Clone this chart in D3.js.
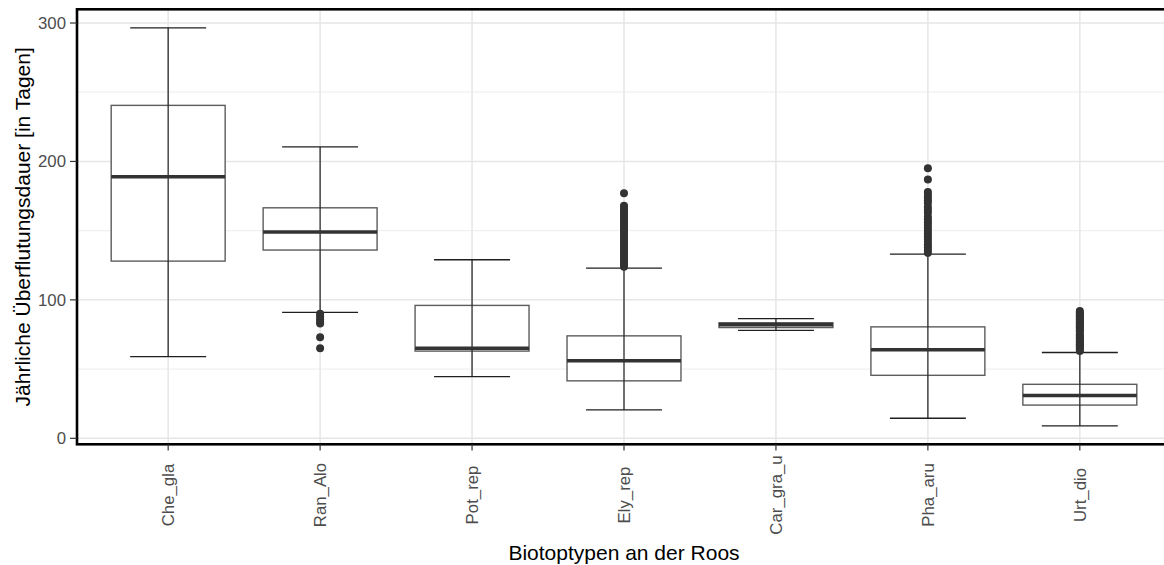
<!DOCTYPE html>
<html>
<head>
<meta charset="utf-8">
<script src="https://cdn.jsdelivr.net/npm/d3@7"></script>
<style>
  body { margin: 0; background: #fff; }
  svg { display: block; font-family: "Liberation Sans", Arial, sans-serif; }
</style>
</head>
<body>
<svg id="chart" width="1164" height="565"></svg>
<script>
'use strict';

// Biotoptypen and their box statistics (days per year)
const categories = ["Che_gla", "Ran_Alo", "Pot_rep", "Ely_rep", "Car_gra_u", "Pha_aru", "Urt_dio"];
const whiskerLow  = [59, 91, 44.5, 20.5, 78, 14.5, 9];
const q1          = [128, 136, 63, 41.5, 80, 45.5, 24];
const medians     = [189, 149, 65, 56, 82, 64, 31];
const q3          = [240.5, 166.5, 96, 74, 83.5, 80.5, 39];
const whiskerHigh = [296.5, 210.5, 129, 123, 86.5, 133, 62];

// outliers
const outRanAlo = [90, 88, 86, 84, 83, 73, 65];
const outElyRep = [177, 168, 167, 165, 164, 162, 161, 159, 158, 156, 155, 153, 152, 150, 149,
  147, 146, 144, 143, 141, 140, 138, 137, 135, 134, 132, 131, 129, 128, 126, 125, 124];
const outPhaAru = [195, 187, 178, 176, 174, 172, 170, 167, 165, 163, 160, 158, 156, 154, 152,
  150, 148, 146, 144, 142, 140, 138, 136, 134];
const outUrtDio = [92, 91, 90, 89, 88, 87, 86, 85, 84, 83, 82, 81, 80, 79, 78, 77, 75, 74, 73,
  72, 71, 70, 69, 68, 67, 66, 65, 64, 63];
const outliers = [[], outRanAlo, [], outElyRep, [], outPhaAru, outUrtDio];

const yTicks = [0, 100, 200, 300];
const yMinor = [50, 150, 250];

const panel = { left: 77, right: 1171, top: 9.3, bottom: 444.3 };

const svg = d3.select("#chart");

const x = d3.scalePoint()
  .domain(categories)
  .range([panel.left, panel.right])
  .padding(0.6);
const step = x.step();

const y = d3.scaleLinear()
  .domain([-4.33, 309.9])
  .range([panel.bottom, panel.top]);

// grid
const grid = svg.append("g");
grid.selectAll(".minor").data(yMinor).enter().append("line")
  .attr("x1", panel.left).attr("x2", panel.right)
  .attr("y1", (d) => y(d)).attr("y2", (d) => y(d))
  .attr("stroke", "#f0f0f0").attr("stroke-width", 1.2);
grid.selectAll(".major").data(yTicks).enter().append("line")
  .attr("x1", panel.left).attr("x2", panel.right)
  .attr("y1", (d) => y(d)).attr("y2", (d) => y(d))
  .attr("stroke", "#e6e6e6").attr("stroke-width", 1.5);
grid.selectAll(".vmajor").data(categories).enter().append("line")
  .attr("x1", (d) => x(d)).attr("x2", (d) => x(d))
  .attr("y1", panel.top).attr("y2", panel.bottom)
  .attr("stroke", "#e6e6e6").attr("stroke-width", 1.5);

const boxW = step * 0.75;
const capW = step * 0.5;

const stats = categories.map((c, i) => ({
  cat: c, lo: whiskerLow[i], q1: q1[i], med: medians[i], q3: q3[i], hi: whiskerHigh[i], out: outliers[i]
}));

const g = svg.append("g");

// boxes
g.selectAll(".box").data(stats).enter().append("rect")
  .attr("x", (d) => x(d.cat) - boxW / 2)
  .attr("width", boxW)
  .attr("y", (d) => y(d.q3))
  .attr("height", (d) => y(d.q1) - y(d.q3))
  .attr("fill", "#fff")
  .attr("stroke", "#5c5c5c")
  .attr("stroke-width", 1.4);

// error bars (drawn over the boxes)
g.selectAll(".stem").data(stats).enter().append("line")
  .attr("x1", (d) => x(d.cat)).attr("x2", (d) => x(d.cat))
  .attr("y1", (d) => y(d.hi)).attr("y2", (d) => y(d.lo))
  .attr("stroke", "#2b2b2b").attr("stroke-width", 1.3);
["hi", "lo"].forEach((k) => {
  g.selectAll(".cap-" + k).data(stats).enter().append("line")
    .attr("x1", (d) => x(d.cat) - capW / 2).attr("x2", (d) => x(d.cat) + capW / 2)
    .attr("y1", (d) => y(d[k])).attr("y2", (d) => y(d[k]))
    .attr("stroke", "#1f1f1f").attr("stroke-width", 1.3);
});

// medians
g.selectAll(".median").data(stats).enter().append("line")
  .attr("x1", (d) => x(d.cat) - boxW / 2).attr("x2", (d) => x(d.cat) + boxW / 2)
  .attr("y1", (d) => y(d.med)).attr("y2", (d) => y(d.med))
  .attr("stroke", "#333").attr("stroke-width", 3.5);

// outliers
stats.forEach((s) => {
  g.selectAll(null).data(s.out).enter().append("circle")
    .attr("cx", x(s.cat))
    .attr("cy", (d) => y(d))
    .attr("r", 4)
    .attr("fill", "#333");
});

// panel border
svg.append("rect")
  .attr("x", panel.left).attr("y", panel.top)
  .attr("width", panel.right - panel.left).attr("height", panel.bottom - panel.top)
  .attr("fill", "none").attr("stroke", "#000").attr("stroke-width", 2.6);

// y axis ticks and labels
const yAxis = svg.append("g");
yAxis.selectAll("line").data(yTicks).enter().append("line")
  .attr("x1", 70).attr("x2", panel.left)
  .attr("y1", (d) => y(d)).attr("y2", (d) => y(d))
  .attr("stroke", "#333").attr("stroke-width", 1.2);
yAxis.selectAll("text").data(yTicks).enter().append("text")
  .attr("x", 66).attr("y", (d) => y(d))
  .attr("dy", "0.35em")
  .attr("text-anchor", "end")
  .attr("font-size", 16.8)
  .attr("fill", "#4d4d4d")
  .text((d) => d);

// x axis ticks and labels
const xAxis = svg.append("g");
xAxis.selectAll("line").data(categories).enter().append("line")
  .attr("x1", (d) => x(d)).attr("x2", (d) => x(d))
  .attr("y1", panel.bottom).attr("y2", 450.5)
  .attr("stroke", "#333").attr("stroke-width", 1.2);
xAxis.selectAll("text").data(categories).enter().append("text")
  .attr("transform", (d) => `translate(${x(d)},495) rotate(-90)`)
  .attr("dy", "0.35em")
  .attr("text-anchor", "middle")
  .attr("font-size", 16.8)
  .attr("fill", "#4d4d4d")
  .text((d) => d);

// titles
svg.append("text")
  .attr("x", (panel.left + panel.right) / 2).attr("y", 560)
  .attr("text-anchor", "middle")
  .attr("font-size", 21)
  .attr("fill", "#000")
  .text("Biotoptypen an der Roos");

svg.append("text")
  .attr("transform", `translate(30,${(panel.top + panel.bottom) / 2}) rotate(-90)`)
  .attr("text-anchor", "middle")
  .attr("font-size", 21)
  .attr("fill", "#000")
  .text("Jährliche Überflutungsdauer [in Tagen]");
</script>
</body>
</html>
